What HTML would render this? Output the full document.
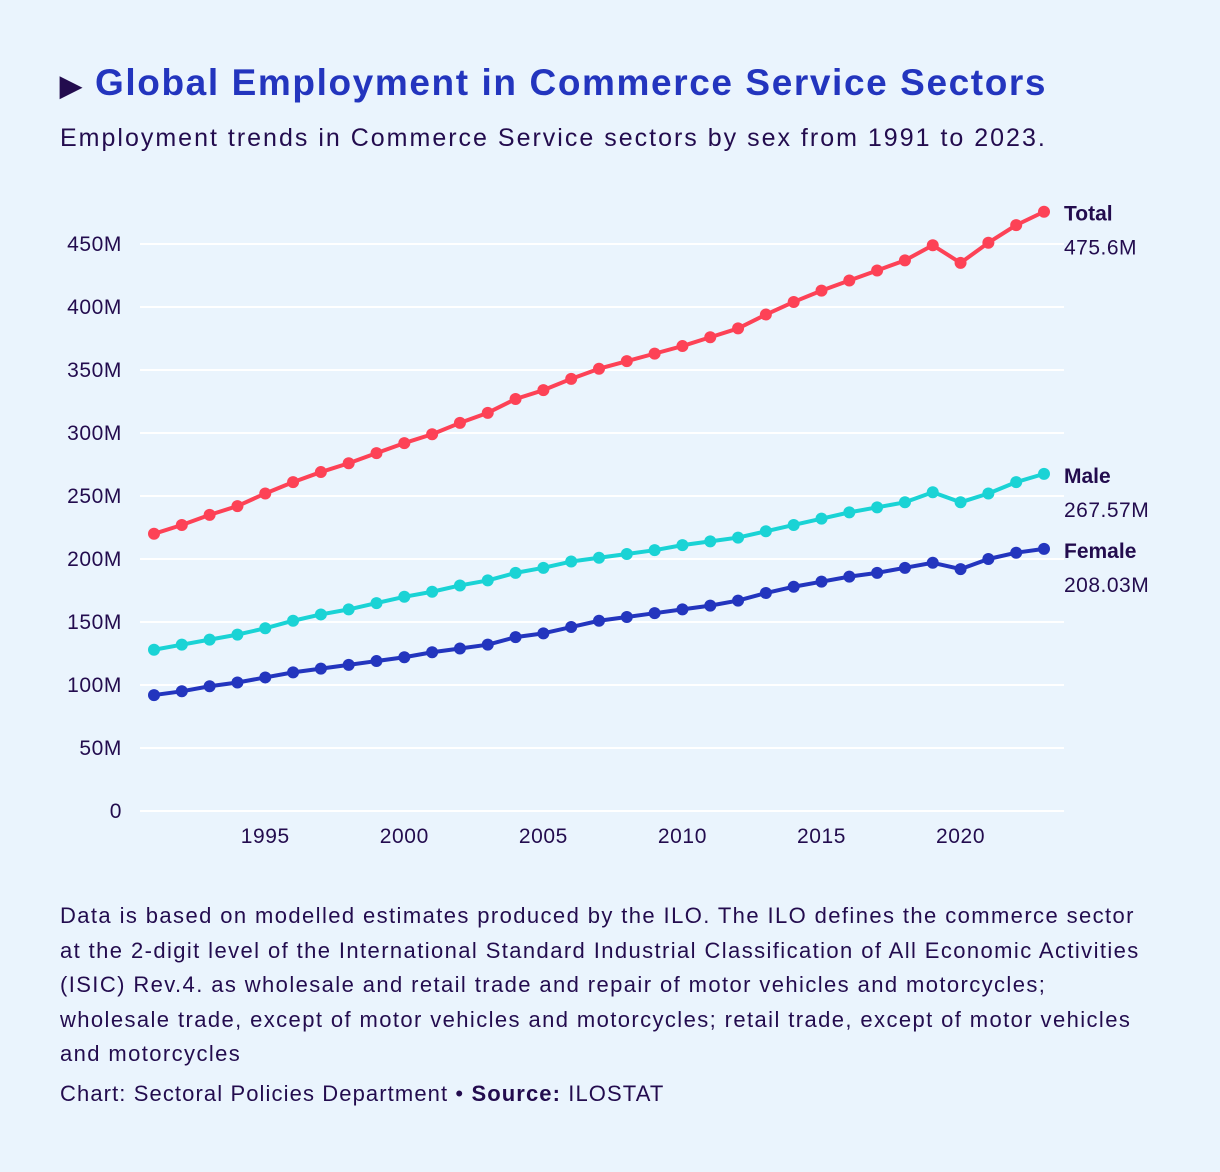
<!DOCTYPE html>
<html><head><meta charset="utf-8"><style>
body{margin:0;background:#eaf4fd;font-family:"Liberation Sans",sans-serif;color:#230c4e}
#wrap{position:relative;width:1220px;height:1172px;overflow:hidden}
h1{position:absolute;left:60px;top:62px;margin:0;font-size:37px;font-weight:bold;color:#2335be;letter-spacing:1.6px;white-space:nowrap}
.sub{position:absolute;left:60px;top:124px;font-size:25px;letter-spacing:2px;white-space:nowrap}
.note{position:absolute;left:60px;top:899px;font-size:22px;line-height:34.5px;letter-spacing:1.4px;white-space:nowrap}
.src{position:absolute;left:60px;top:1081px;font-size:22px;letter-spacing:1.1px}
</style></head><body><div id="wrap">
<h1><span style="font-size:28px;color:#230c4e">&#9654;</span> Global Employment in Commerce Service Sectors</h1>
<div class="sub">Employment trends in Commerce Service sectors by sex from 1991 to 2023.</div>
<svg id="chart" width="1220" height="880" style="position:absolute;left:0;top:0"></svg>
<div class="note">Data is based on modelled estimates produced by the ILO. The ILO defines the commerce sector<br>at the 2-digit level of the International Standard Industrial Classification of All Economic Activities<br>(ISIC) Rev.4. as wholesale and retail trade and repair of motor vehicles and motorcycles;<br>wholesale trade, except of motor vehicles and motorcycles; retail trade, except of motor vehicles<br>and motorcycles</div>
<div class="src">Chart: Sectoral Policies Department • <b>Source:</b> ILOSTAT</div>
</div>
<script>
const years=[1991,1992,1993,1994,1995,1996,1997,1998,1999,2000,2001,2002,2003,2004,2005,2006,2007,2008,2009,2010,2011,2012,2013,2014,2015,2016,2017,2018,2019,2020,2021,2022,2023];
const totalVals=[220,227,235,242,252,261,269,276,284,292,299,308,316,327,334,343,351,357,363,369,376,383,394,404,413,421,429,437,449,435,451,465,475.6];
const maleVals=[128,132,136,140,145,151,156,160,165,170,174,179,183,189,193,198,201,204,207,211,214,217,222,227,232,237,241,245,253,245,252,261,267.57];
const femaleVals=[92,95,99,102,106,110,113,116,119,122,126,129,132,138,141,146,151,154,157,160,163,167,173,178,182,186,189,193,197,192,200,205,208.03];
const yTicks=[0,50,100,150,200,250,300,350,400,450];
const xTicks=[1995,2000,2005,2010,2015,2020];
const labels=["Total","Male","Female"];
const lastLabels=["475.6M","267.57M","208.03M"];
const ns="http://www.w3.org/2000/svg",svg=document.getElementById('chart');
const X=y=>154+(y-1991)*(890/32), Y=v=>811-v*1.26;
function mk(t,a){const e=document.createElementNS(ns,t);for(const k in a)e.setAttribute(k,a[k]);svg.appendChild(e);return e;}
yTicks.forEach(t=>{
 const l=mk('line',{x1:140,x2:1064,y1:Y(t),y2:Y(t),stroke:'#fff','stroke-width':2});
 
 
 const tx=mk('text',{x:122,y:Y(t)+7,'text-anchor':'end','font-size':21,'letter-spacing':0.6,fill:'#230c4e'});tx.textContent=t?t+'M':'0';
 
 
});
xTicks.forEach(t=>{
 const tx=mk('text',{x:X(t),y:843,'text-anchor':'middle','font-size':21,'letter-spacing':0.6,fill:'#230c4e'});tx.textContent=t;
 
 
});
const series=[totalVals,maleVals,femaleVals],colors=['#fd4256','#1ad3d5','#2335be'];
series.forEach((s,i)=>{
 const p=mk('polyline',{points:s.map((v,j)=>X(years[j])+','+Y(v)).join(' '),fill:'none',stroke:colors[i],'stroke-width':4,'stroke-linejoin':'round'});
 
 
 s.forEach((v,j)=>{const c=mk('circle',{cx:X(years[j]),cy:Y(v),r:6,fill:colors[i]});
  
  });
 const ly=Y(s[s.length-1]);
 const a=mk('text',{x:1064,y:ly+9,'font-size':21,'font-weight':'bold',fill:'#230c4e'});a.textContent=labels[i];
 
 
 const b=mk('text',{x:1064,y:ly+43,'font-size':21,'letter-spacing':0.5,fill:'#230c4e'});b.textContent=lastLabels[i];
 
 
});
</script></body></html>
